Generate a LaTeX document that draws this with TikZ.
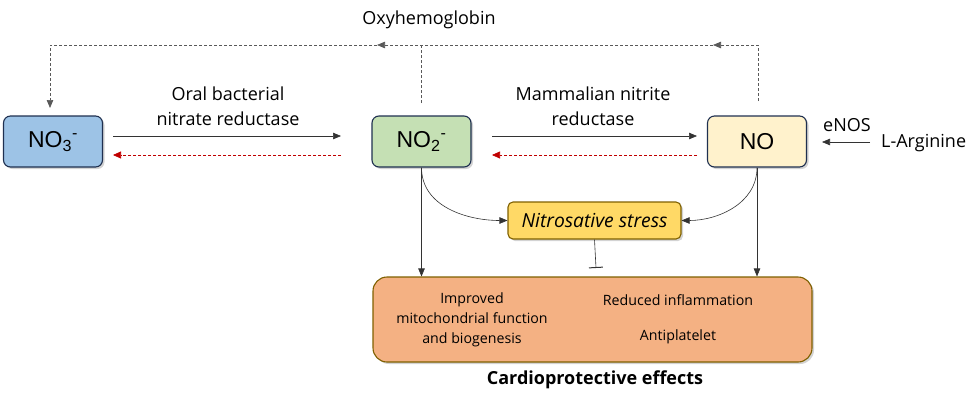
\documentclass[tikz,border=0pt]{standalone}
\usepackage{fontspec}
\setmainfont{Open Sans}
\newfontfamily\arialf{Liberation Sans}
\usetikzlibrary{arrows.meta,shadows}
\definecolor{bluefill}{HTML}{9DC3E6}
\definecolor{greenfill}{HTML}{C5E0B4}
\definecolor{yellowfill}{HTML}{FFF2CC}
\definecolor{goldfill}{HTML}{FFD966}
\definecolor{orangefill}{HTML}{F4B183}
\definecolor{navy}{HTML}{1F3050}
\definecolor{brownb}{HTML}{7F6000}
\definecolor{darkred}{HTML}{C00000}
\definecolor{dgray}{HTML}{595959}
\tikzset{
  boxst/.style={draw=navy, line width=1.1pt, rounded corners=7pt, minimum width=99pt, minimum height=51pt,
     font=\arialf\fontsize{23}{26}\selectfont, inner sep=0pt,
     drop shadow={shadow xshift=2pt, shadow yshift=-2pt, opacity=0.35}},
  lbl/.style={font=\fontsize{18}{25}\selectfont, align=center, inner sep=0pt},
  small/.style={font=\fontsize{14.2}{20}\selectfont, align=center, inner sep=0pt},
  arr/.style={-{Triangle[length=8pt,width=6.5pt]}, line width=0.6pt, draw=black!80},
  redarr/.style={-{Triangle[length=8pt,width=7pt]}, line width=0.7pt, draw=darkred, dash pattern=on 3pt off 2pt},
  grayd/.style={line width=0.7pt, draw=dgray, dash pattern=on 3pt off 2pt},
  graya/.style={grayd, -{Triangle[length=8pt,width=6.5pt]}}
}
\begin{document}
\begin{tikzpicture}[x=1pt,y=-1pt]
\useasboundingbox (0,0) rectangle (980,405);
% boxes
\node[boxst, fill=bluefill] (no3) at (53,141.5) {NO\textsubscript{3}\textsuperscript{-}};
\node[boxst, fill=greenfill] (no2) at (421.5,141.5) {NO\textsubscript{2}\textsuperscript{-}};
\node[boxst, fill=yellowfill] (no) at (757,141.5) {NO};
\node[draw=brownb, line width=1.1pt, rounded corners=5pt, fill=goldfill, minimum width=173pt, minimum height=37pt,
      inner sep=0pt, font=\itshape\fontsize{19.3}{22}\selectfont,
      drop shadow={shadow xshift=2pt, shadow yshift=-2pt, opacity=0.35}] (ns) at (594.5,220.5) {Nitrosative stress};
\node[draw=brownb, line width=1.1pt, rounded corners=14pt, fill=orangefill, minimum width=439pt, minimum height=85pt,
      inner sep=0pt, drop shadow={shadow xshift=2pt, shadow yshift=-2pt, opacity=0.35}] (cp) at (592.5,319.5) {};
\node[small] (imp) at (472,320) {Improved\\mitochondrial function\\and biogenesis};
\node[small] (red) at (678,300) {Reduced inflammation};
\node[small] (anti) at (678,337) {Antiplatelet};
\node[font=\bfseries\fontsize{18}{21}\selectfont, inner sep=0pt] (cpl) at (595,380) {Cardioprotective effects};
% labels
\node[lbl] (oral) at (228,106.5) {Oral bacterial\\nitrate reductase};
\node[lbl] (mam) at (593,106.5) {Mammalian nitrite\\reductase};
\node[lbl] (oxy) at (429,20) {Oxyhemoglobin};
\node[lbl, anchor=west] (enos) at (823,125) {eNOS};
\node[lbl, anchor=west] (larg) at (881,143) {L-Arginine};
% main arrows
\coordinate (a1s) at (113,136); \coordinate (a1e) at (341,136);
\coordinate (r1s) at (341,155); \coordinate (r1e) at (113,155);
\coordinate (a2s) at (492,136); \coordinate (a2e) at (697,136);
\coordinate (r2s) at (697,155); \coordinate (r2e) at (492,155);
\draw[arr] (a1s) -- (a1e);
\draw[redarr] (r1s) -- (r1e);
\draw[arr] (a2s) -- (a2e);
\draw[redarr] (r2s) -- (r2e);
\coordinate (ls) at (870,142); \coordinate (le) at (822,142);
\draw[arr] (ls) -- (le);
% dashed oxyhemoglobin loop
\coordinate (noT) at (758,101);
\coordinate (no2T) at (421,103);
\coordinate (c1) at (758,45);
\coordinate (m1) at (713,45);
\coordinate (m2) at (377,45);
\coordinate (c2) at (50,45);
\coordinate (no3T) at (50,108);
\coordinate (j) at (421,45);
\draw[graya] (noT) -- (c1) -- (m1);
\draw[graya] (m1) -- (m2);
\draw[graya] (m2) -- (c2) -- (no3T);
\draw[grayd] (no2T) -- (j);
% lower arrows
\draw[arr] (no2.south) -- (no2.south |- cp.north);
\draw[arr] (no.south) -- (no.south |- cp.north);
\draw[arr] (no2.south) to[out=-90,in=180] (ns.west);
\draw[arr] (no.south) to[out=-90,in=0] (ns.east);
\coordinate (inh) at (596,268);
\draw[line width=0.6pt, draw=black!80, -{Bar[width=14pt,line width=1pt]}] (ns.south) -- (inh);
\end{tikzpicture}
\end{document}
